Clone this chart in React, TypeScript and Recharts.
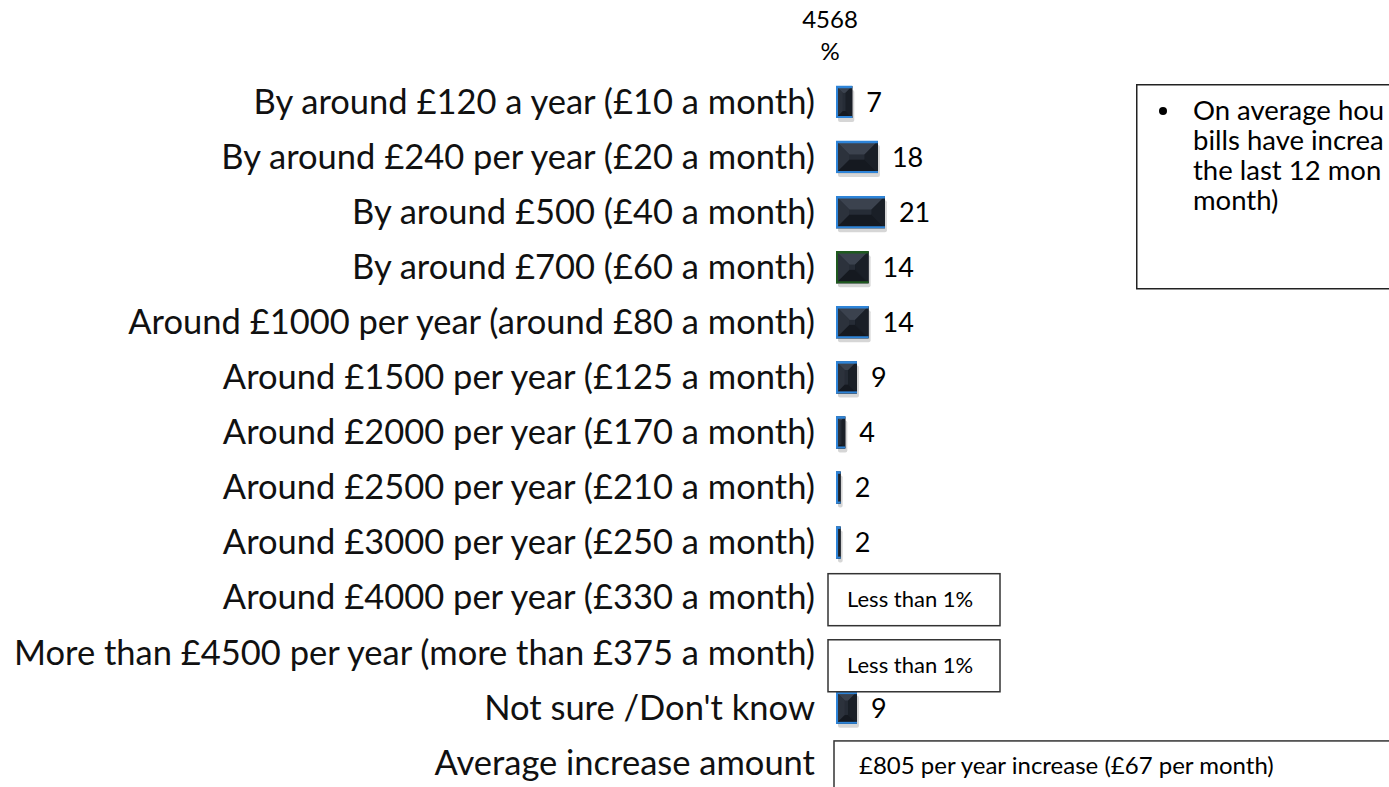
import { BarChart, Bar, XAxis, YAxis, LabelList } from "recharts";

const categories = [
  "By around £120 a year (£10 a month)",
  "By around £240 per year (£20 a month)",
  "By around £500 (£40 a month)",
  "By around £700 (£60 a month)",
  "Around £1000 per year (around £80 a month)",
  "Around £1500 per year (£125 a month)",
  "Around £2000 per year (£170 a month)",
  "Around £2500 per year (£210 a month)",
  "Around £3000 per year (£250 a month)",
  "Around £4000 per year (£330 a month)",
  "More than £4500 per year (more than £375 a month)",
  "Not sure /Don't know",
  "Average increase amount",
];

// percent of respondents; rows shown as a note have no bar
const shares = [7, 18, 21, 14, 14, 9, 4, 2, 2, 0, 0, 9, 0];

const notes = ["", "", "", "", "", "", "", "", "", "Less than 1%", "Less than 1%", "", ""];

const summary = "£805 per year increase (£67 per month)";
const baseLabel = "4568";
const unitLabel = "%";
const sideNote = [
  "On average hou",
  "bills have increa",
  "the last 12 mon",
  "month)",
];

const data = categories.map((c, i) => ({
  category: c,
  share: shares[i],
  text: i === categories.length - 1 ? summary : notes[i] || String(shares[i]),
}));

const FONT = "Lato, 'Noto Sans', sans-serif";

function BevelBar(props: any) {
  const { x, y, width, height, index } = props;
  if (!width || width <= 0) return null;
  const w = width;
  const h = height;
  const b = Math.min(w, h) / 2 * 0.85;
  const edge = index === 3 ? "#1f5a1f" : "#2e84d8";
  return (
    <g>
      <rect x={x + 2} y={y + 4} width={w} height={h} fill="rgba(0,0,0,0.16)" rx={2} />
      <rect x={x} y={y} width={w} height={h} fill="#222832" />
      <polygon points={`${x},${y} ${x + w},${y} ${x + w - b},${y + b} ${x + b},${y + b}`} fill="#3b424e" />
      <polygon points={`${x},${y} ${x + b},${y + b} ${x + b},${y + h - b} ${x},${y + h}`} fill="#2c323c" />
      <polygon points={`${x + w},${y} ${x + w},${y + h} ${x + w - b},${y + h - b} ${x + w - b},${y + b}`} fill="#1a1f27" />
      <polygon points={`${x},${y + h} ${x + b},${y + h - b} ${x + w - b},${y + h - b} ${x + w},${y + h}`} fill="#151920" />
      <rect x={x + b} y={y + b} width={Math.max(0, w - 2 * b)} height={Math.max(0, h - 2 * b)} fill="#262c36" />
      <line x1={x} y1={y + 1} x2={x + w} y2={y + 1} stroke={edge} strokeWidth={2.5} />
      <line x1={x} y1={y + h - 1} x2={x + w} y2={y + h - 1} stroke={edge} strokeWidth={2} />
      <line x1={x + 1} y1={y} x2={x + 1} y2={y + h} stroke={edge} strokeWidth={2} />
    </g>
  );
}

function RowLabel(props: any) {
  const { index, value } = props;
  const vb = props.viewBox ?? props;
  const { x, y, height } = vb;
  const cy = y + height / 2;
  if (index === categories.length - 1) {
    return (
      <g>
        <rect x={x - 2} y={cy - 22} width={600} height={70} fill="#fff" stroke="#333" strokeWidth={1.5} />
        <text x={x + 23} y={cy + 5} fontSize={24} fontFamily={FONT} fill="#000" dominantBaseline="middle">
          {value}
        </text>
      </g>
    );
  }
  if (notes[index]) {
    const shift = index === 10 ? 13 : 2;
    return (
      <g>
        <rect x={x - 8} y={cy - 26 + shift} width={172} height={52} fill="#fff" stroke="#333" strokeWidth={1.5} />
        <text x={x + 11} y={cy + shift + 2} fontSize={22} fontFamily={FONT} fill="#000" dominantBaseline="middle">
          {value}
        </text>
      </g>
    );
  }
  return (
    <text x={x + vb.width + 14} y={cy + 3} fontSize={27} fontFamily={FONT} fill="#000" dominantBaseline="middle">
      {value}
    </text>
  );
}

export default function App() {
  return (
    <div style={{ position: "absolute", left: 0, top: 0, width: 1389, height: 787, overflow: "hidden", background: "#fff" }}>
      <BarChart
        width={1389}
        height={800}
        data={data}
        layout="vertical"
        barSize={32}
        margin={{ top: 74, right: 320, bottom: 10, left: 0 }}
      >
        <XAxis type="number" domain={[0, 100]} hide />
        <YAxis
          type="category"
          dataKey="category"
          width={836}
          axisLine={false}
          tickLine={false}
          tickMargin={15}
          interval={0}
          tick={{ fontSize: 34.5, fill: "#111", fontFamily: FONT }}
        />
        <Bar dataKey="share" shape={<BevelBar />} isAnimationActive={false}>
          <LabelList dataKey="text" content={<RowLabel />} />
        </Bar>
      </BarChart>

      <div style={{ position: "absolute", left: 780, top: 3, width: 100, textAlign: "center", fontFamily: FONT, fontSize: 24, lineHeight: "32px", color: "#000" }}>
        {baseLabel}
        <br />
        {unitLabel}
      </div>

      <svg style={{ position: "absolute", left: 1136, top: 84 }} width={260} height={206}>
        <rect x={0.75} y={0.75} width={300} height={204} fill="#fff" stroke="#222" strokeWidth={1.5} />
        <circle cx={27} cy={27} r={4} fill="#000" />
        {sideNote.map((l, i) => (
          <text key={l} x={57} y={36 + i * 30} fontSize={27.5} fontFamily={FONT} fill="#000">
            {l}
          </text>
        ))}
      </svg>
    </div>
  );
}
